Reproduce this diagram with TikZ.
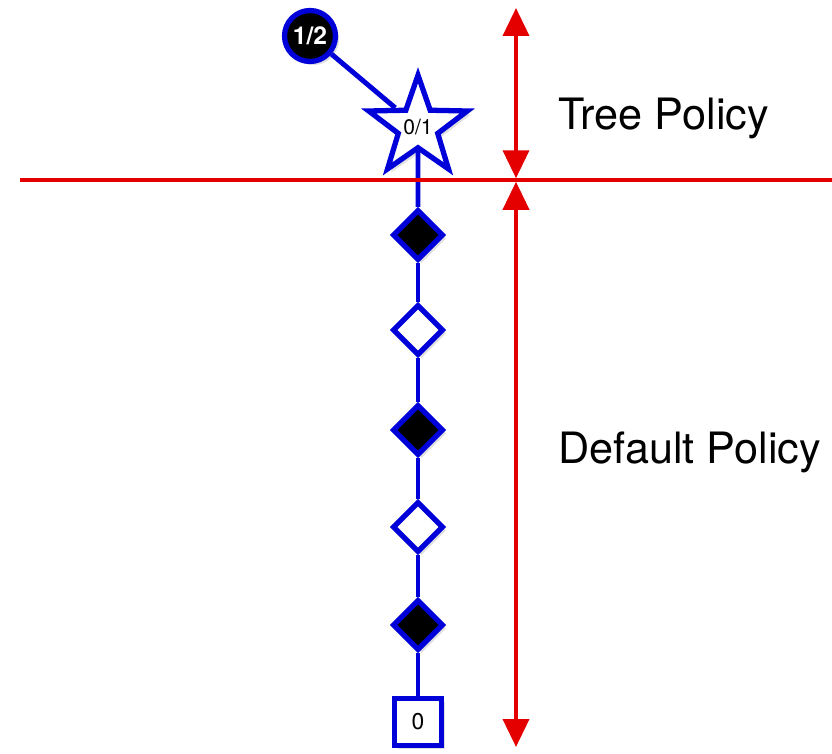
\documentclass[tikz,border=0pt]{standalone}
\usepackage{fontspec}
\setmainfont{TeX Gyre Heros}
\usetikzlibrary{shapes.geometric,arrows.meta,shadows}

\tikzset{
  mcts/.style={draw=blue!85!black,line width=3pt,inner sep=0pt,
    drop shadow={opacity=0.25,shadow xshift=2pt,shadow yshift=-2pt}},
  blackmove/.style={mcts,diamond,fill=black,minimum size=1.02cm},
  whitemove/.style={mcts,diamond,fill=white,minimum size=1.02cm},
  link/.style={draw=blue!85!black,line width=2.8pt},
  bound/.style={draw=red!90!black,line width=2.2pt},
  span/.style={bound,{Triangle[length=0.56cm,width=0.52cm]}-{Triangle[length=0.56cm,width=0.52cm]}}
}

\begin{document}
\begin{tikzpicture}[x=0.02cm,y=-0.02cm]
    \useasboundingbox (0,0) rectangle (832,754);

    \node[mcts,circle,fill=black,minimum size=1.02cm,text=white,font=\bfseries\fontsize{14}{16}\selectfont](root)at(310,36){1/2};
    \node[mcts,star,star points=5,star point ratio=2.5,fill=white,minimum size=1.9cm,font=\fontsize{12}{14}\selectfont](new)at(418,127){0/1};

    \node[blackmove](m1)at(418,235){};
    \node[whitemove](m2)at(418,330){};
    \node[blackmove](m3)at(418,430){};
    \node[whitemove](m4)at(418,527){};
    \node[blackmove](m5)at(418,625){};
    \node[mcts,rectangle,fill=white,minimum size=0.95cm,font=\fontsize{13}{15}\selectfont](end)at(418,722){0};

    \draw[link] (root) to (new);
    \draw[link] (new) to (m1);
    \draw[link] (m1) to (m2);
    \draw[link] (m2) to (m3);
    \draw[link] (m3) to (m4);
    \draw[link] (m4) to (m5);
    \draw[link] (m5) to (end);

    \coordinate (lineL) at (20,180);
    \coordinate (lineR) at (832,180);
    \coordinate (top) at (516,8);
    \coordinate (mid) at (516,180);
    \coordinate (bottom) at (516,747);

    \draw[bound] (lineL) to (lineR);
    \draw[span] (top) to ([yshift=1pt]mid);
    \draw[span] ([yshift=-1pt]mid) to (bottom);

    \node[right,font=\fontsize{24.6}{30}\selectfont](tree)at(552,118){Tree Policy};
    \node[right,font=\fontsize{24.6}{30}\selectfont](default)at(552,452){Default Policy};
\end{tikzpicture}
\end{document}
